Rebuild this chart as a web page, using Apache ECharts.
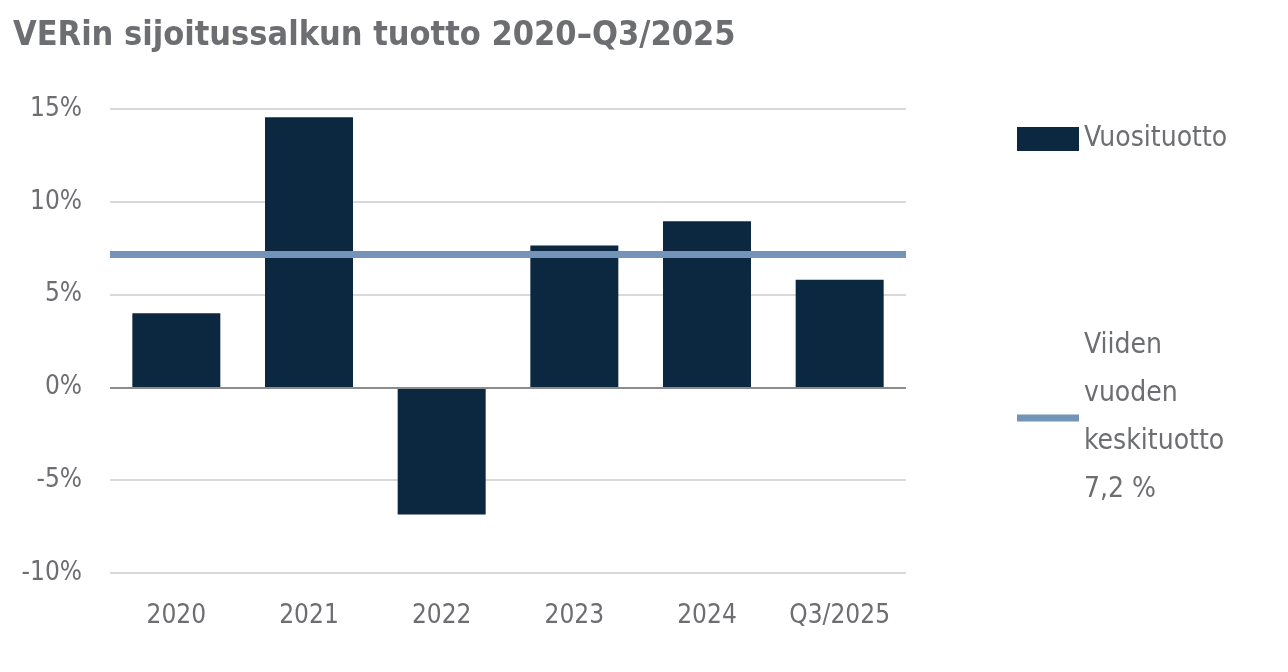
<!DOCTYPE html>
<html><head><meta charset="utf-8">
<script src="https://cdn.jsdelivr.net/npm/echarts@6/dist/echarts.min.js"></script>
<style>html,body{margin:0;background:#fff}#c{width:1288px;height:672px}</style>
</head><body><div id="c"></div>
<script>
const categories=['2020','2021','2022','2023','2024','Q3/2025'];
const returns=[4.0,14.55,-6.85,7.65,8.95,5.8];
const average=7.2;
const yTicks=[-10,-5,0,5,10,15];
const F='"DejaVu Sans Condensed","Liberation Sans Narrow",sans-serif';
const G='#6d6e71';
const chart=echarts.init(document.getElementById('c'));
chart.setOption({
 animation:false,
 title:{text:'VERin sijoitussalkun tuotto 2020\u2013Q3/2025',left:8,top:14,textStyle:{fontFamily:F,fontSize:34,fontWeight:'bold',color:G}},
 grid:{left:110,right:382,top:109,bottom:99},
 legend:[
  {data:['Vuosituotto'],left:1012,top:120,itemWidth:62,itemHeight:24,itemGap:8,icon:'rect',textStyle:{fontFamily:F,fontSize:28,color:G}},
  {data:[{name:'Viiden\nvuoden\nkeskituotto\n7,2 %',icon:'rect'}],left:1012,top:320,itemWidth:62,itemHeight:7,textStyle:{fontFamily:F,fontSize:28,color:G,lineHeight:48,verticalAlign:'top',padding:[-6,0,0,0]}}
 ],
 xAxis:{type:'category',data:categories,axisTick:{show:false},axisLine:{show:false},
  axisLabel:{fontFamily:F,fontSize:26,color:G,margin:30}},
 yAxis:{type:'value',min:-10,max:15,interval:5,
  axisLabel:{fontFamily:F,fontSize:26,color:G,formatter:v=>v+'%',margin:28},
  splitLine:{lineStyle:{color:'#d9d9d9',width:2}}},
 series:[
  {name:'Vuosituotto',type:'bar',data:returns,barWidth:88,itemStyle:{color:'#0c2840'},
   markLine:{silent:true,symbol:'none',label:{show:false},lineStyle:{color:'#8c8c8c',width:2,type:'solid'},data:[{yAxis:0}]}},
  {name:'Viiden\nvuoden\nkeskituotto\n7,2 %',type:'line',data:[],itemStyle:{color:'#7393b8'},lineStyle:{color:'#7393b8'},
   markLine:{silent:true,symbol:'none',label:{show:false},lineStyle:{color:'#7393b8',width:7,type:'solid'},data:[{yAxis:average}]}}
 ]
});
</script></body></html>
